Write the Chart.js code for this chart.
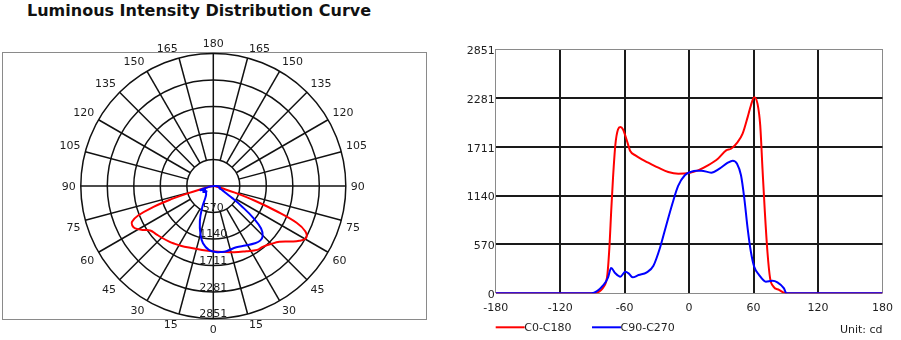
<!DOCTYPE html>
<html>
<head>
<meta charset="utf-8">
<script src="https://cdn.jsdelivr.net/npm/chart.js@4"></script>
<style>
    body { margin: 0; background: #fff; width: 901px; height: 340px; overflow: hidden; position: relative; font-family: 'DejaVu Sans', sans-serif; }
    #title { position: absolute; left: 27px; top: 1px; font-weight: bold; font-size: 16px; color: #111; white-space: nowrap; }
    #polar { position: absolute; left: 0; top: 0; }
    #curve { position: absolute; left: 450px; top: 0; }
</style>
</head>
<body>
<div id="title">Luminous Intensity Distribution Curve</div>
<canvas id="polar" width="450" height="340"></canvas>
<canvas id="curve" width="451" height="340"></canvas>
<script>
// tick labels
const intensityTicks = [0, 570, 1140, 1711, 2281, 2851];
const angleTicks = [-180, -120, -60, 0, 60, 120, 180];
const polarAngleLabels = [0, 15, 30, 45, 60, 75, 90, 105, 120, 135, 150, 165, 180];
const seriesNames = ['C0-C180', 'C90-C270'];

// C0-C180 (red), gamma angle -> cd
const c0Angles = [-180, -91, -79, -76, -74, -72.5, -70.8, -68.6, -66.2, -64, -61.5, -57.8, -54.8, -50, -44, -38, -35, -28.6, -19.4, -10, 0,
    8.3, 17.5, 26.8, 34.5, 39, 45.2, 49.8, 54.5, 57.5, 60.6, 63.7, 66.2, 68.3, 70.5, 72.9, 75.4, 78.5, 83.7, 90, 180];
const c0Values = [0, 0, 85, 225, 574, 962, 1350, 1738, 1912, 1940, 1912, 1777, 1660, 1610, 1563, 1524, 1505, 1466, 1416, 1396, 1405,
    1435, 1493, 1571, 1668, 1687, 1765, 1862, 2056, 2192, 2289, 2211, 1959, 1455, 950, 485, 175, 78, 39, 0, 0];

// C90-C270 (blue)
const c90Angles = [-180, -91, -79.4, -75.4, -72.6, -68.6, -64, -59.4, -56.3, -52.6, -47, -39.4, -33.2, -27, -21, -14.8, -10.2, -4, 2.2, 6.8,
    11.4, 20.6, 28.3, 36, 40.6, 44.6, 48.3, 51.4, 54.5, 57.5, 60.6, 65.2, 71.4, 77.5, 82.2, 88.3, 90.5, 180];
const c90Values = [0, 0, 101, 186, 295, 233, 194, 252, 233, 186, 213, 244, 322, 535, 807, 1078, 1253, 1377, 1420, 1431,
    1431, 1408, 1455, 1524, 1548, 1513, 1377, 1106, 756, 485, 310, 213, 136, 147, 128, 58, 0, 0];

const RED = '#ff0000';
const BLUE = '#0000ff';
const FONT = "11px 'DejaVu Sans', sans-serif";
const R_MAX = intensityTicks[intensityTicks.length - 1];

Chart.defaults.font.family = "'DejaVu Sans', sans-serif";
Chart.defaults.font.size = 11;
Chart.defaults.color = '#1e1e1e';

function toPoints(angles, values) {
    return angles.map((a, i) => ({x: a, y: values[i]}));
}

// polar: 0 deg points down, positive angles to the right
function toPolar(angles, values) {
    const pts = [];
    angles.forEach((a, i) => {
        if (Math.abs(a) > 91) return;
        const t = a * Math.PI / 180;
        pts.push({x: values[i] * Math.sin(t), y: -values[i] * Math.cos(t)});
    });
    return pts;
}

// ---------- polar diagram ----------
const box = {left: 2, right: 427, top: 52, bottom: 320};
const centre = {x: 213.3, y: 186};
const k = 132.5 / R_MAX; // px per cd

const polarGrid = {
    id: 'polarGrid',
    beforeDatasetsDraw(chart) {
        const {ctx, chartArea: ca, scales: {x, y}} = chart;
        const cx = x.getPixelForValue(0), cy = y.getPixelForValue(0);
        const rad = v => x.getPixelForValue(v) - cx;
        ctx.save();
        ctx.strokeStyle = '#8a8a8a';
        ctx.lineWidth = 1;
        ctx.strokeRect(ca.left + 0.5, ca.top + 0.5, ca.width - 1, ca.height - 1);

        ctx.strokeStyle = '#111';
        ctx.lineWidth = 1.5;
        intensityTicks.slice(1).forEach(v => {
            ctx.beginPath();
            ctx.arc(cx, cy, rad(v), 0, Math.PI * 2);
            ctx.stroke();
        });
        const r0 = rad(intensityTicks[1]), r1 = rad(R_MAX);
        for (let a = 0; a < 360; a += 15) {
            const t = a * Math.PI / 180;
            const ri = a % 90 === 0 ? 0 : r0;
            ctx.beginPath();
            ctx.moveTo(cx + ri * Math.sin(t), cy + ri * Math.cos(t));
            ctx.lineTo(cx + r1 * Math.sin(t), cy + r1 * Math.cos(t));
            ctx.stroke();
        }

        // angle labels sit just outside the outer ring, corner towards the centre
        ctx.fillStyle = '#1e1e1e';
        ctx.font = FONT;
        ctx.textAlign = 'center';
        ctx.textBaseline = 'middle';
        polarAngleLabels.forEach(a => {
            [1, -1].forEach(side => {
                if (side < 0 && (a === 0 || a === 180)) return;
                const t = side * a * Math.PI / 180;
                const s = Math.sin(t), c = Math.cos(t);
                const w = ctx.measureText(String(a)).width;
                const sx = Math.abs(s) < 1e-6 ? 0 : Math.sign(s) * w / 2;
                const sy = Math.abs(c) < 1e-6 ? 0.7 : (c > 0 ? 6.5 : -4.3);
                ctx.fillText(String(a), cx + (r1 + 5) * s + sx, cy + (r1 + 5) * c + sy);
            });
        });
        ctx.textBaseline = 'alphabetic';
        intensityTicks.slice(1).forEach(v => {
            ctx.fillText(String(v), cx, cy + rad(v) - 1.5);
        });
        ctx.restore();
    }
};

new Chart('polar', {
    type: 'scatter',
    data: {
        datasets: [
            {label: seriesNames[0], data: toPolar(c0Angles, c0Values), borderColor: RED, order: 1},
            {label: seriesNames[1], data: toPolar(c90Angles, c90Values), borderColor: BLUE, order: 0}
        ]
    },
    options: {
        responsive: false,
        animation: false,
        showLine: true,
        layout: {padding: {left: box.left, right: 450 - box.right, top: box.top, bottom: 340 - box.bottom}},
        elements: {point: {radius: 0}, line: {borderWidth: 2, tension: 0.4, fill: false}},
        plugins: {legend: {display: false}, tooltip: {enabled: false}},
        scales: {
            x: {display: false, min: -(centre.x - box.left) / k, max: (box.right - centre.x) / k},
            y: {display: false, min: -(box.bottom - centre.y) / k, max: (centre.y - box.top) / k}
        }
    },
    plugins: [polarGrid]
});

// ---------- cartesian curve ----------
const isEdge = ctx => ctx.index === 0 || ctx.index === ctx.scale.ticks.length - 1;

const curveLegend = {
    id: 'curveLegend',
    afterDraw(chart) {
        const {ctx, chartArea: ca} = chart;
        const y = ca.bottom + 34;
        ctx.save();
        ctx.font = FONT;
        ctx.fillStyle = '#1e1e1e';
        ctx.textBaseline = 'middle';
        let x = ca.left;
        [RED, BLUE].forEach((col, i) => {
            ctx.strokeStyle = col;
            ctx.lineWidth = 2;
            ctx.beginPath();
            ctx.moveTo(x, y);
            ctx.lineTo(x + 29, y);
            ctx.stroke();
            ctx.fillText(seriesNames[i], x + 28.5, y + 0.5);
            x += 29 + ctx.measureText(seriesNames[i]).width + 20;
        });
        ctx.textAlign = 'right';
        ctx.fillText('Unit: cd', ca.right, y + 3);
        ctx.restore();
    }
};

new Chart('curve', {
    type: 'line',
    data: {
        datasets: [
            {label: seriesNames[0], data: toPoints(c0Angles, c0Values), borderColor: RED, order: 1},
            {label: seriesNames[1], data: toPoints(c90Angles, c90Values), borderColor: BLUE, order: 0}
        ]
    },
    options: {
        responsive: false,
        animation: false,
        layout: {padding: {top: 49, right: 15, left: 0, bottom: 0}},
        elements: {point: {radius: 0}, line: {borderWidth: 2, cubicInterpolationMode: 'monotone', fill: false}},
        plugins: {legend: {display: false}, tooltip: {enabled: false}},
        scales: {
            x: {
                type: 'linear', min: -180, max: 180,
                afterBuildTicks: s => { s.ticks = angleTicks.map(v => ({value: v})); },
                afterFit: s => { s.height = 46.7; },
                grid: {drawTicks: false, color: c => isEdge(c) ? '#8a8a8a' : '#1a1a1a', lineWidth: c => isEdge(c) ? 1 : 2},
                border: {display: false},
                ticks: {padding: 8, maxRotation: 0, callback: v => String(v)}
            },
            y: {
                min: 0, max: R_MAX,
                afterBuildTicks: s => { s.ticks = intensityTicks.map(v => ({value: v})); },
                afterFit: s => { s.width = 45.7; },
                grid: {drawTicks: false, color: c => isEdge(c) ? '#8a8a8a' : '#1a1a1a', lineWidth: c => isEdge(c) ? 1 : 2},
                border: {display: false},
                ticks: {padding: 1, labelOffset: 2, callback: v => String(v)}
            }
        }
    },
    plugins: [curveLegend]
});
</script>
</body>
</html>
